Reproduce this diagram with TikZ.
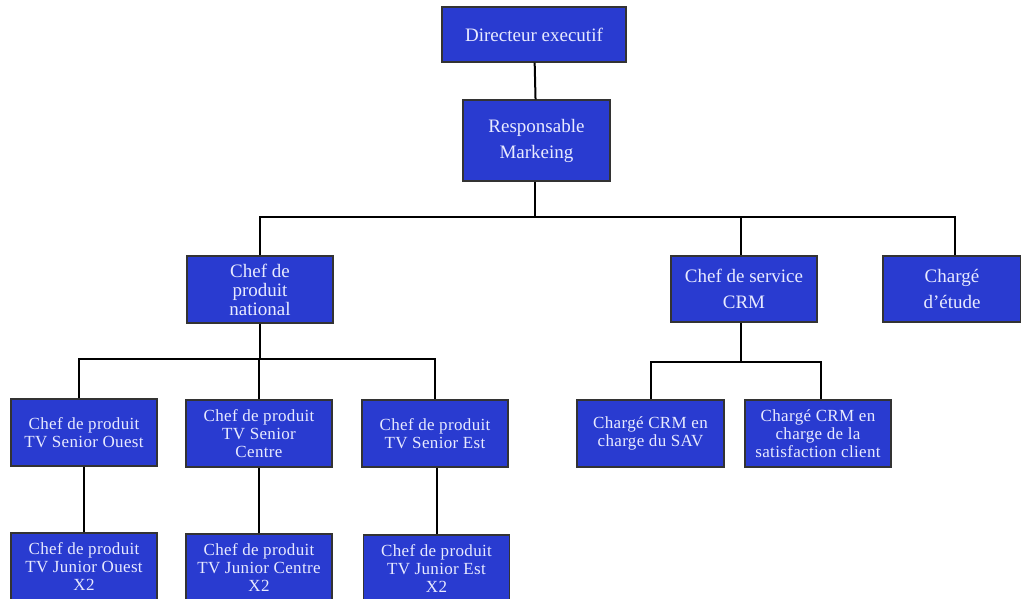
\documentclass[tikz,border=0pt]{standalone}
\usepackage{fontspec}
\setmainfont{Liberation Serif}
\newfontfamily\spacedserif[LetterSpace=2]{Liberation Serif}
\begin{document}
\begin{tikzpicture}[x=1pt,y=-1pt,
  box/.style={draw=black!80, line width=1.1pt, fill=boxblue, text=boxtext,
    align=center, inner sep=0pt, minimum width=146pt, minimum height=67pt},
  bigtxt/.style={font=\fontsize{19}{26}\selectfont},
  midtxt/.style={font=\fontsize{19}{19}\selectfont},
  smalltxt/.style={font=\spacedserif\fontsize{17}{18}\selectfont},
  link/.style={draw=black, line width=2pt}]
\definecolor{boxblue}{RGB}{41,59,208}
\definecolor{boxtext}{RGB}{232,234,255}
\useasboundingbox (0,0) rectangle (1021,598);

% management levels
\node[box,bigtxt,minimum width=184pt,minimum height=55pt] (dir) at (534,34.5) {Directeur executif};
\node[box,bigtxt,minimum width=147pt,minimum height=81pt] (resp) at (536.5,140.5) {Responsable\\Markeing};

\node[box,midtxt] (cpn) at (260,289.5) {Chef de\\produit\\national};
\node[box,bigtxt,minimum height=66pt] (crm) at (744,289) {Chef de service\\CRM};
\node[box,bigtxt,minimum width=138pt,minimum height=66pt] (etu) at (952,289) {Chargé\\d’étude};

% product managers
\node[box,smalltxt] (so) at (84,432.5) {Chef de produit\\TV Senior Ouest};
\node[box,smalltxt] (sc) at (259,433.5) {Chef de produit\\TV Senior\\Centre};
\node[box,smalltxt] (se) at (435,433.5) {Chef de produit\\TV Senior Est};

\node[box,smalltxt] (jo) at (84,566.5) {Chef de produit\\TV Junior Ouest\\X2};
\node[box,smalltxt] (jc) at (259,567.5) {Chef de produit\\TV Junior Centre\\X2};
\node[box,smalltxt] (je) at (436.5,568.5) {Chef de produit\\TV Junior Est\\X2};

% CRM team
\node[box,smalltxt,minimum width=147pt] (sav) at (650.5,433.5) {Chargé CRM en\\charge du SAV};
\node[box,smalltxt] (sat) at (818,433.5) {Chargé CRM en\\charge de la\\satisfaction client};

% bus points
\coordinate (bus1) at (535,217);
\coordinate (bus2) at (260,359);
\coordinate (bus3) at (741,362);

\draw[link] (dir) -- (resp);
\draw[link] (resp.south -| bus1) -- (bus1);
\draw[link] (bus1) -| (cpn);
\draw[link] (bus1) -| (crm.north -| bus3);
\draw[link] (bus1) -| ([xshift=3pt]etu.north);

\draw[link] (cpn) -- (bus2);
\draw[link] (bus2) -| ([xshift=-5pt]so.north);
\draw[link] (bus2) -| (sc);
\draw[link] (bus2) -| (se);

\draw[link] (so) -- (jo);
\draw[link] (sc) -- (jc);
\draw[link] (se.south -| je.north) -- (je.north);

\draw[link] (crm.south -| bus3) -- (bus3);
\draw[link] (bus3) -| (sav);
\draw[link] (bus3) -| ([xshift=3pt]sat.north);
\end{tikzpicture}
\end{document}
